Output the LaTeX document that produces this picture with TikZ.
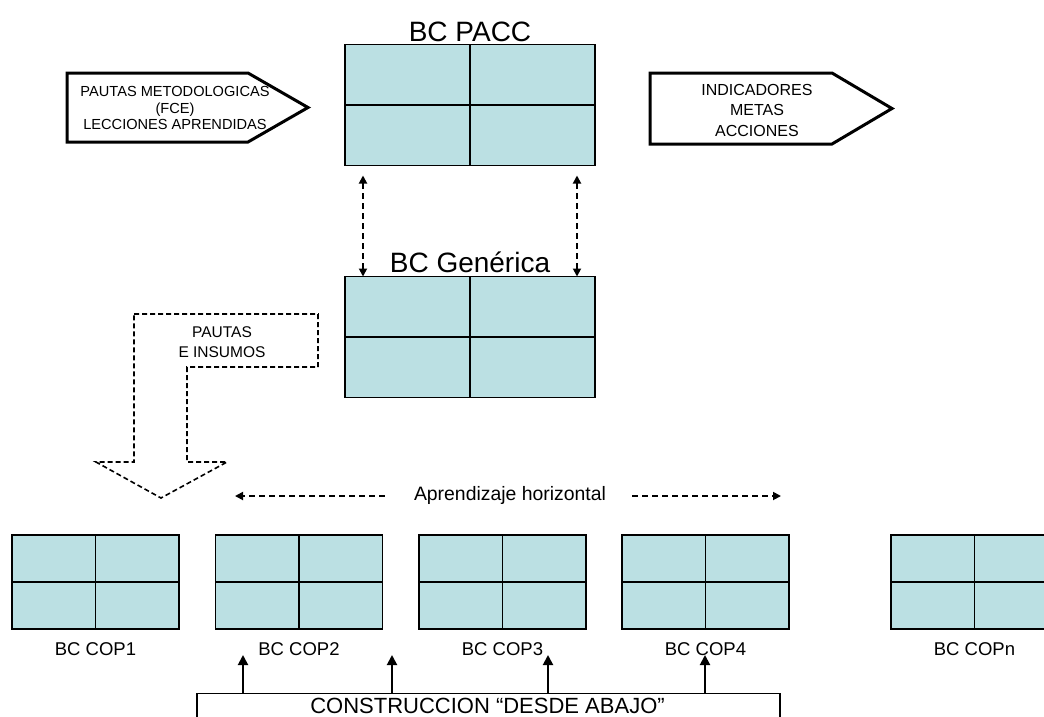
\documentclass[tikz,border=0pt]{standalone}
\usepackage{fontspec}
\setmainfont{Liberation Sans}
\usetikzlibrary{arrows.meta}
\definecolor{boxfill}{RGB}{187,224,227}
\begin{document}
\begin{tikzpicture}[x=1pt,y=-1pt,
  bcbox/.style={draw=black, fill=boxfill, line width=1.4pt, minimum width=167pt, minimum height=94pt, inner sep=0pt, outer sep=0pt},
  bigbox/.style={bcbox, minimum width=250pt, minimum height=121pt},
  divline/.style={draw=black, line width=1.4pt},
  titletext/.style={font=\fontsize{28}{33}\selectfont, inner sep=0pt, anchor=base},
  coptext/.style={font=\fontsize{18.5}{22}\selectfont, inner sep=0pt, anchor=base},
  pentline/.style={draw=black, line width=3pt, line join=miter},
  dasharr/.style={line width=1.8pt, dash pattern=on 6pt off 4pt, -{Triangle[width=8pt,length=8pt]}},
  ddasharr/.style={line width=1.8pt, dash pattern=on 6pt off 4pt, {Triangle[width=8pt,length=8pt]}-{Triangle[width=8pt,length=8pt]}},
  uparr/.style={line width=2pt, -{Triangle[width=10pt,length=10pt]}},
  bentline/.style={draw=black, line width=1.6pt, dash pattern=on 5pt off 3pt, line join=miter}
]
\useasboundingbox (0,0) rectangle (1044,716);
\clip (0,0) rectangle (1044,716);

% big boxes
\node[bigbox] (pacc) at (470,105) {};
\node[bigbox] (gen) at (470,337) {};
\node[titletext] (paccT) at (470,41) {BC PACC};
\node[titletext] (genT) at (470,272) {BC Genérica};

% COP boxes
\node[bcbox] (cop1) at (95.5,582) {};
\node[bcbox] (cop2) at (299,582) {};
\node[bcbox] (cop3) at (502.5,582) {};
\node[bcbox] (cop4) at (705.5,582) {};
\node[bcbox] (copn) at (974.5,582) {};
\foreach \n in {pacc,gen,cop1,cop2,cop3,cop4,copn}{
  \draw[divline] (\n.north) -- (\n.south);
  \draw[divline] (\n.west) -- (\n.east);
}
\node[coptext] (cop1T) at (95.5,655) {BC COP1};
\node[coptext] (cop2T) at (299,655) {BC COP2};
\node[coptext] (cop3T) at (502.5,655) {BC COP3};
\node[coptext] (cop4T) at (705.5,655) {BC COP4};
\node[coptext] (copnT) at (974.5,655) {BC COPn};

% pentagon arrows
\draw[pentline] (67,73) -- (248,73) -- (308,107.5) -- (248,142) -- (67,142) -- cycle;
\node[align=center, inner sep=0pt, font=\fontsize{14.6}{16.8}\selectfont] (pm) at (175,108) {PAUTAS METODOLOGICAS\\(FCE)\\LECCIONES APRENDIDAS};
\draw[pentline] (650,73) -- (832,73) -- (892,108.5) -- (832,144) -- (650,144) -- cycle;
\node[align=center, inner sep=0pt, font=\fontsize{16}{20.5}\selectfont] (ind) at (757,110) {INDICADORES\\METAS\\ACCIONES};

% vertical dashed double arrows
\draw[ddasharr] ([xshift=-107pt,yshift=-10pt]pacc.south) -- ([xshift=-107pt]gen.north);
\draw[ddasharr] ([xshift=107pt,yshift=-10pt]pacc.south) -- ([xshift=107pt]gen.north);

% bent dashed arrow
\draw[bentline] (134,314) -- (318,314) -- (318,367) -- (187,367) -- (187,462) -- (227,462) -- (161,498) -- (96,462) -- (134,462) -- cycle;
\node[align=center, inner sep=0pt, font=\fontsize{15.5}{20}\selectfont] (pi) at (222,342) {PAUTAS\\E INSUMOS};

% horizontal learning
\node[inner sep=0pt, font=\fontsize{19.4}{23}\selectfont] (hz) at (510,495) {Aprendizaje horizontal};
\coordinate (hl) at (235,496);
\coordinate (hr) at (781,496);
\draw[dasharr] ([xshift=-29pt]hz.west |- hl) -- (hl);
\draw[dasharr] ([xshift=26pt]hz.east |- hr) -- (hr);

% construction box
\node[draw=black, line width=1.2pt, minimum width=583pt, minimum height=40pt, anchor=north, inner sep=0pt] (cons) at (488.5,693) {};
\node[inner sep=0pt, anchor=base, font=\fontsize{22}{26}\selectfont] (consT) at (487.5,713) {CONSTRUCCION “DESDE ABAJO”};
\coordinate (u1) at (243,655);
\coordinate (u2) at (392,655);
\coordinate (u3) at (548,655);
\coordinate (u4) at (705,655);
\foreach \u in {u1,u2,u3,u4}{
  \draw[uparr] (cons.north -| \u) -- (\u);
}
\end{tikzpicture}
\end{document}
